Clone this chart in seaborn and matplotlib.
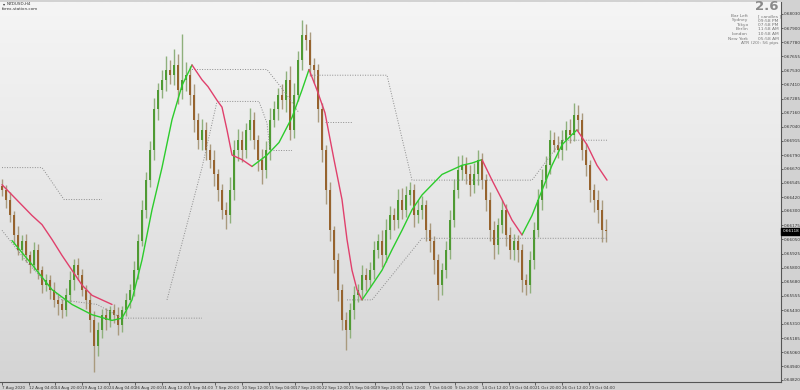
import numpy as np
import pandas as pd
import matplotlib
matplotlib.use("Agg")
import matplotlib.pyplot as plt
from matplotlib.colors import LinearSegmentedColormap
import matplotlib.transforms as mtransforms
import seaborn as sns

# ---------------- data ----------------
first_open = 0.6652
closes = [
    0.6648, 0.6640, 0.6626, 0.6609, 0.6596, 0.6604, 0.6591, 0.6583, 0.6596, 0.6578,
    0.6565, 0.6569, 0.6561, 0.6552, 0.6548, 0.6543, 0.6556, 0.6569, 0.6583, 0.6574,
    0.6561, 0.6552, 0.6534, 0.6512, 0.6526, 0.6539, 0.6534, 0.6543, 0.6539, 0.6530,
    0.6543, 0.6552, 0.6561, 0.6578, 0.6604, 0.6631, 0.6657, 0.6683, 0.6719, 0.6736,
    0.6745, 0.6754, 0.6749, 0.6758, 0.6736, 0.6745, 0.6749, 0.6732, 0.6710, 0.6692,
    0.6701, 0.6683, 0.6675, 0.6662, 0.6648, 0.6631, 0.6626, 0.6648, 0.6683, 0.6692,
    0.6683, 0.6701, 0.6710, 0.6692, 0.6675, 0.6666, 0.6683, 0.6710, 0.6719, 0.6732,
    0.6727, 0.6745, 0.6701, 0.6732, 0.6762, 0.6784, 0.6780, 0.6758, 0.6754, 0.6719,
    0.6683, 0.6648, 0.6613, 0.6587, 0.6561, 0.6534, 0.6526, 0.6543, 0.6556, 0.6561,
    0.6574, 0.6569, 0.6578, 0.6596, 0.6604, 0.6591, 0.6613, 0.6626, 0.6622, 0.6640,
    0.6631, 0.6644, 0.6648, 0.6626, 0.6631, 0.6635, 0.6613, 0.6604, 0.6587, 0.6565,
    0.6578, 0.6596, 0.6622, 0.6648, 0.6666, 0.6670, 0.6662, 0.6653, 0.6662, 0.6675,
    0.6657, 0.6640, 0.6613, 0.6600, 0.6618, 0.6631, 0.6609, 0.6596, 0.6604, 0.6596,
    0.6569, 0.6565, 0.6587, 0.6613, 0.6640, 0.6657, 0.6670, 0.6692, 0.6688, 0.6683,
    0.6692, 0.6701, 0.6697, 0.6714, 0.6710, 0.6683, 0.6670, 0.6648, 0.6640, 0.6631,
    0.6613, 0.6612,
]
wick_up_pips = [
    6, 5, 7, 4, 8, 5, 6, 4, 7, 5,
    4, 6, 5, 7, 4, 5, 6, 8, 5, 6,
    5, 4, 6, 8, 7, 5, 6, 4, 5, 7,
    4, 6, 5, 8, 6, 9, 7, 8, 10, 6,
    9, 12, 8, 14, 10, 40, 12, 8, 9, 6,
    10, 7, 6, 8, 5, 6, 7, 12, 9, 10,
    8, 6, 10, 7, 5, 9, 8, 10, 7, 6,
    9, 8, 12, 10, 8, 13, 10, 7, 6, 5,
    6, 5, 7, 4, 6, 5, 7, 6, 8, 5,
    9, 6, 7, 8, 6, 9, 10, 8, 7, 9,
    10, 8, 7, 6, 9, 8, 5, 6, 4, 5,
    6, 8, 9, 10, 12, 9, 7, 8, 10, 8,
    6, 5, 7, 8, 6, 9, 5, 7, 6, 5,
    5, 6, 8, 7, 9, 10, 8, 9, 7, 8,
    9, 8, 10, 11, 9, 6, 7, 5, 6, 8,
    9, 10,
]
wick_dn_pips = [
    5, 7, 6, 8, 5, 9, 6, 7, 5, 8,
    7, 5, 8, 6, 9, 7, 5, 6, 8, 5,
    6, 8, 10, 23, 9, 7, 8, 6, 7, 9,
    6, 5, 7, 6, 8, 5, 7, 6, 8, 9,
    7, 10, 8, 9, 12, 8, 10, 9, 11, 8,
    9, 8, 7, 10, 9, 8, 12, 7, 8, 9,
    10, 7, 9, 8, 10, 12, 7, 8, 6, 9,
    8, 10, 9, 7, 6, 8, 9, 10, 12, 11,
    10, 12, 9, 11, 10, 8, 18, 7, 8, 6,
    7, 9, 6, 8, 7, 10, 6, 8, 9, 7,
    8, 6, 9, 10, 7, 8, 9, 10, 12, 13,
    9, 7, 8, 6, 7, 9, 8, 10, 7, 9,
    8, 10, 9, 12, 8, 7, 10, 8, 9, 11,
    10, 9, 7, 8, 6, 9, 7, 8, 6, 7,
    8, 9, 7, 6, 10, 8, 9, 10, 11, 12,
    10, 9,
]

nan = float("nan")
# trend line, red (falling) parts, segments split by nan
red_x = [0, 2.5, 5, 7.5, 10, 12.5, 15, 17.5, 20, 22.5, 25, 27.5, nan,
         47.5, 50, 51.5, 53.75, 55, 56.25, 57.5, 60, 62.5, nan,
         76.75, 78.75, 80.75, 83, 85, 86.25, 87.5, 88.75, 90, nan,
         120, 122.5, 125, 127.5, 130, nan,
         143.75, 146.25, 148.75, 151.25]
red_y = [0.6653, 0.6644, 0.6635, 0.6626, 0.6618, 0.6605, 0.6591, 0.6578, 0.6565, 0.6556, 0.6552, 0.6548, nan,
         0.6758, 0.6745, 0.6739, 0.6727, 0.6721, 0.6701, 0.6679, 0.6675, 0.6669, nan,
         0.6754, 0.6736, 0.6716, 0.6675, 0.6640, 0.6605, 0.6578, 0.6561, 0.6552, nan,
         0.6675, 0.6657, 0.6640, 0.6622, 0.6609, nan,
         0.6701, 0.6688, 0.6670, 0.6657]
# trend line, green (rising) parts
green_x = [2.5, 7.5, 12.5, 17.5, 22.5, 27.5, 30, 32.5, 35, 37.5, 40, 42.5, 45, 47.5, nan,
           62.5, 66.25, 69.25, 72.5, 75, 76.75, nan,
           90, 92.5, 95, 97.5, 100, 102.5, 105, 107.5, 110, 112.5, 115, 117.5, 120, nan,
           130, 132.5, 135, 137.5, 140, 142.5, 143.75]
green_y = [0.6604, 0.6583, 0.6561, 0.6548, 0.6539, 0.6534, 0.6536, 0.6552, 0.6587, 0.6631, 0.6668, 0.6710, 0.6740, 0.6758, nan,
           0.6669, 0.6679, 0.6690, 0.6712, 0.6736, 0.6754, nan,
           0.6552, 0.6565, 0.6578, 0.6596, 0.6613, 0.6631, 0.6644, 0.6653, 0.6662, 0.6666, 0.6670, 0.6672, 0.6675, nan,
           0.6609, 0.6626, 0.6648, 0.6670, 0.6688, 0.6697, 0.6701]
# dotted channel levels
dot_x = [0, 10, 15.5, 25, nan,
         0, 6.25, 15, 23.75, 30, 50, nan,
         41.25, 50, 53.75, 64.25, 66.25, 67, 72.5, nan,
         47.5, 66.25, 70.75, 74.25, nan,
         77.5, 96.25, 102.5, 132.5, 140, 151.25, nan,
         80.75, 87.5, nan,
         86.25, 92.5, 105, 151.25]
dot_y = [0.6668, 0.6668, 0.6640, 0.6640, nan,
         0.6613, 0.6585, 0.6552, 0.6548, 0.6536, 0.6536, nan,
         0.6552, 0.6668, 0.6726, 0.6726, 0.6707, 0.6683, 0.6683, nan,
         0.6754, 0.6754, 0.6734, 0.6716, nan,
         0.6749, 0.6749, 0.6657, 0.6657, 0.6692, 0.6692, nan,
         0.6708, 0.6708, nan,
         0.6552, 0.6552, 0.6606, 0.6606]

price_ticks = [0.64820, 0.64940, 0.65060, 0.65185, 0.65310, 0.65430, 0.65555, 0.65680,
               0.65800, 0.65925, 0.66050, 0.66175, 0.66300, 0.66420, 0.66545, 0.66670,
               0.66790, 0.66915, 0.67040, 0.67160, 0.67285, 0.67410, 0.67530, 0.67655,
               0.67780, 0.67900, 0.68030]
date_labels = ["7 Aug 2020", "12 Aug 04:00", "14 Aug 20:00", "19 Aug 12:00", "24 Aug 04:00",
               "26 Aug 20:00", "31 Aug 12:00", "3 Sep 04:00", "7 Sep 20:00", "10 Sep 12:00",
               "15 Sep 04:00", "17 Sep 20:00", "22 Sep 12:00", "25 Sep 04:00", "29 Sep 20:00",
               "2 Oct 12:00", "7 Oct 04:00", "9 Oct 20:00", "14 Oct 12:00", "19 Oct 04:00",
               "21 Oct 20:00", "26 Oct 12:00", "29 Oct 04:00"]
last_price_label = "0.66118"
info_names = ["Bar Left", "Sydney", "Tokyo", "Berlin", "London", "New York"]
info_values = ["[ candles ]", "09:58 PM", "07:58 PM", "11:58 AM", "10:58 AM", "05:58 AM"]
atr_text = "ATR (20): 56 pips"
big_value = "2.6"
symbol_text = "NZDUSD,H4"
site_text = "forex-station.com"

# ---------------- drawing ----------------
sns.set_theme(style="white")
plt.rcParams["font.family"] = ["Liberation Sans Narrow", "DejaVu Sans"]

W, H = 800, 390
fig = plt.figure(figsize=(W / 100, H / 100), dpi=100)
fig.patch.set_facecolor("#d2d2d2")
ax = fig.add_axes([0, 8 / H, 781 / W, 380 / H])

xlim = (-0.5, 194.75)
ylim = (0.64800, 0.68132)

grad = np.linspace(0, 1, 256).reshape(-1, 1)
cmap = LinearSegmentedColormap.from_list("bg", ["#f5f5f5", "#e7e7e7", "#d4d4d4"])
ax.imshow(grad, extent=[xlim[0], xlim[1], ylim[0], ylim[1]], aspect="auto",
          cmap=cmap, origin="upper", zorder=0)

c = np.array(closes)
o = np.r_[first_open, c[:-1]]
hi = np.maximum(o, c) + np.array(wick_up_pips) * 0.0001
lo = np.minimum(o, c) - np.array(wick_dn_pips) * 0.0001
idx = np.arange(len(c))
bull = c >= o

ax.vlines(idx[bull], lo[bull], hi[bull], color="#8fb07c", lw=1.0, zorder=2)
ax.vlines(idx[~bull], lo[~bull], hi[~bull], color="#a99a7e", lw=1.0, zorder=2)
body_b = np.minimum(o, c)
body_h = np.maximum(np.abs(c - o), 0.00004)
ax.bar(idx[bull], body_h[bull], bottom=body_b[bull], width=0.6, color="#4f9a33",
       edgecolor="none", zorder=3)
ax.bar(idx[~bull], body_h[~bull], bottom=body_b[~bull], width=0.6, color="#96632e",
       edgecolor="none", zorder=3)


def segments(xs, ys):
    rows = []
    seg = 0
    for xv, yv in zip(xs, ys):
        if np.isnan(xv):
            seg += 1
            continue
        rows.append((seg, xv, yv))
    return pd.DataFrame(rows, columns=["seg", "x", "y"])


dd = segments(dot_x, dot_y)
sns.lineplot(data=dd, x="x", y="y", units="seg", estimator=None, sort=False,
             color="#8c8c8c", lw=0.7, linestyle=(0, (1, 1.6)), ax=ax, zorder=4)
gd = segments(green_x, green_y)
sns.lineplot(data=gd, x="x", y="y", units="seg", estimator=None, sort=False,
             color="#2ccc2c", lw=1.0, ax=ax, zorder=5)
rd = segments(red_x, red_y)
sns.lineplot(data=rd, x="x", y="y", units="seg", estimator=None, sort=False,
             color="#e0406c", lw=1.0, ax=ax, zorder=6)

ax.set_xlim(*xlim)
ax.set_ylim(*ylim)
ax.set_xlabel("")
ax.set_ylabel("")

ax.yaxis.tick_right()
ax.set_yticks(price_ticks)
ax.set_yticklabels([f"{v:.5f}" for v in price_ticks])
ax.tick_params(axis="y", which="both", right=True, length=1.5, width=0.5, pad=0.6,
               labelsize=3.0, labelcolor="#333333", color="#333333")

step = 16 / 2.4
ax.set_xticks(np.arange(len(date_labels)) * step)
ax.set_xticklabels(date_labels, ha="left")
ax.tick_params(axis="x", which="both", bottom=True, length=2, width=0.5, pad=0.6,
               labelsize=2.9, labelcolor="#333333", color="#333333")
for lab in ax.get_xticklabels():
    lab.set_horizontalalignment("left")

for side in ["top", "left"]:
    ax.spines[side].set_visible(False)
for side in ["right", "bottom"]:
    ax.spines[side].set_color("#555555")
    ax.spines[side].set_linewidth(0.8)

trans = mtransforms.blended_transform_factory(ax.transAxes, ax.transData)
ax.text(1.002, c[-1], last_price_label, transform=trans, ha="left", va="center",
        fontsize=3.0, color="white",
        bbox=dict(boxstyle="square,pad=0.3", facecolor="black", edgecolor="black"))

# header texts
fig.text(778 / W, 1 - 7 / H, big_value, ha="right", va="center", fontsize=9.5,
         color="#8a8a8a", fontweight="bold", family=["DejaVu Sans"])
ys = [16, 20.5, 25, 29.5, 34, 38.5]
for nm, val, yy in zip(info_names, info_values, ys):
    fig.text(748 / W, 1 - yy / H, nm, ha="right", va="center", fontsize=3.2, color="#777777")
    fig.text(758 / W, 1 - yy / H, val, ha="left", va="center", fontsize=3.2, color="#777777")
fig.text(778 / W, 1 - 43 / H, atr_text, ha="right", va="center", fontsize=3.2, color="#777777")

fig.text(7 / W, 1 - 4 / H, symbol_text, ha="left", va="center", fontsize=3.0, color="#333333")
fig.text(2 / W, 1 - 9 / H, site_text, ha="left", va="center", fontsize=3.0, color="#333333")
fig.text(2.5 / W, 1 - 4 / H, "\u25be", ha="left", va="center", fontsize=3.0, color="#333333",
         family=["DejaVu Sans"])

fig.savefig("out.png", dpi=100, facecolor=fig.get_facecolor())
